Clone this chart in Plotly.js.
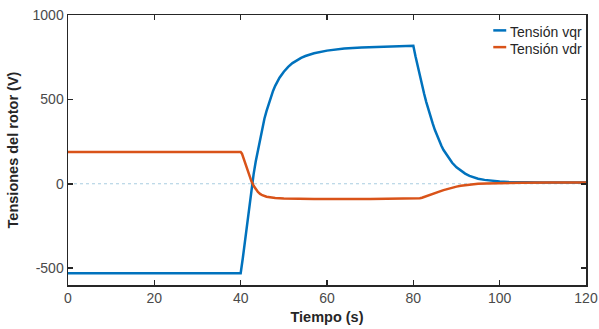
<!DOCTYPE html>
<html>
<head>
<meta charset="utf-8">
<script src="https://cdn.plot.ly/plotly-3.0.1.min.js"></script>
<style>html,body{margin:0;padding:0;background:#fff;}#chart{width:599px;height:329px;}</style>
</head>
<body>
<div id="chart"></div>
<script>
// Tension vqr
const tVqr = [0, 40, 40.5, 41, 41.5, 42, 42.5, 43, 43.5, 44, 44.5, 45, 45.5, 46, 46.5, 47, 47.5, 48, 48.5, 49, 50, 51, 52, 53, 54, 55, 57, 60, 64, 68, 72, 76, 80,
              80.5, 81, 81.5, 82, 82.5, 83, 83.5, 84, 84.5, 85, 85.5, 86, 86.5, 87, 88, 89, 90, 91, 92, 93, 94, 95, 96.5, 98, 100, 102, 105, 110, 120];
const vqr  = [-530, -530, -440, -340, -230, -120, -25, 57, 133, 202, 268, 330, 385, 432, 475, 515, 550, 580, 606, 628, 664, 693, 715, 732, 746, 757, 773, 789, 801, 808, 812, 816, 818,
              755, 695, 640, 585, 533, 484, 438, 395, 356, 318, 284, 253, 225, 200, 158, 124, 97, 76, 60, 47, 37, 30, 23, 17, 13, 10, 8, 7, 7];
// Tension vdr
const tVdr = [0, 40, 40.3, 40.6, 41, 41.5, 42, 42.5, 43, 43.5, 44, 44.5, 45, 46, 47, 48, 50, 53, 57, 70, 80, 81, 81.5, 82, 82.5, 83, 84, 85, 86, 87, 88, 89, 90, 91, 92, 93.5, 95, 97, 100, 105, 112, 120];
const vdr  = [188, 188, 178, 155, 122, 82, 45, 14, -12, -33, -49, -60, -68, -77, -82, -85, -88, -89.5, -90, -90, -89, -88, -86, -83, -79, -75, -66, -56, -47, -38, -30, -23, -17, -12, -8, -3, 0, 2, 4, 6, 7, 7];
const seriesNames = ['Tensión vqr', 'Tensión vdr'];
const seriesColors = ['#0072BD', '#D95319'];
const xTicks = [0, 20, 40, 60, 80, 100, 120];
const yTicks = [-500, 0, 500, 1000];
const yTickText = ['-500', '0', '500', '1000'];

const font = 'Liberation Sans, Arial, sans-serif';
const traces = [
  {x: tVqr, y: vqr, name: seriesNames[0], mode: 'lines', line: {color: seriesColors[0], width: 2.5}, showlegend: false},
  {x: tVdr, y: vdr, name: seriesNames[1], mode: 'lines', line: {color: seriesColors[1], width: 2.5}, showlegend: false}
];
const axisCommon = {
  showgrid: false, zeroline: false, showline: true, linecolor: '#262626', linewidth: 1.5,
  mirror: 'allticks', ticks: 'inside', ticklen: 5, tickwidth: 1.5, tickcolor: '#262626',
  tickfont: {family: font, size: 14, color: '#4a4a4a'}
};
// custom legend (short line samples as in the original)
const legY = [0.937, 0.875];
const annotations = seriesNames.map((n, i) => ({
  xref: 'paper', yref: 'paper', x: 0.849, y: legY[i], xanchor: 'left', yanchor: 'middle',
  text: n, showarrow: false, font: {family: font, size: 14, color: '#262626'}
}));
const legendLines = seriesColors.map((c, i) => ({
  type: 'line', xref: 'paper', yref: 'paper', x0: 0.821, x1: 0.846, y0: legY[i] + 0.006, y1: legY[i] + 0.006,
  line: {color: c, width: 2.5}
}));
const layout = {
  width: 599, height: 329,
  margin: {l: 68, r: 13, t: 15, b: 44},
  paper_bgcolor: '#fff', plot_bgcolor: '#fff',
  xaxis: Object.assign({}, axisCommon, {range: [0, 120], tickvals: xTicks,
    title: {text: '<b>Tiempo (s)</b>', font: {family: font, size: 14.5, color: '#262626'}, standoff: 6}}),
  yaxis: Object.assign({}, axisCommon, {range: [-600, 1000], tickvals: yTicks, ticktext: yTickText,
    title: {text: '<b>Tensiones del rotor (V)</b>', font: {family: font, size: 14.5, color: '#262626'}, standoff: 10}}),
  shapes: [{type: 'line', xref: 'paper', x0: 0, x1: 1, yref: 'y', y0: 0, y1: 0,
    line: {color: '#a9cde0', width: 1, dash: '3px,3px'}, layer: 'below'}].concat(legendLines),
  annotations: annotations,
  showlegend: false
};
Plotly.newPlot('chart', traces, layout, {displayModeBar: false, staticPlot: true});
</script>
</body>
</html>
